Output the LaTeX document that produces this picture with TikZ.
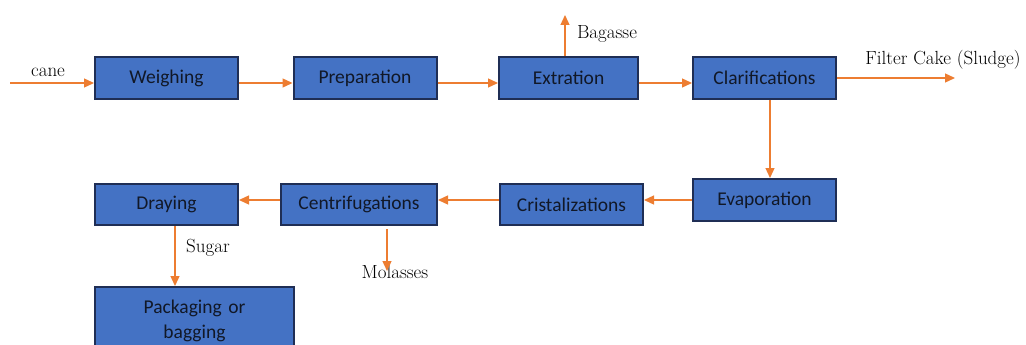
\documentclass[tikz,border=0pt]{standalone}
\usepackage{fontspec}
\newfontfamily\boxfont{Carlito}
\usetikzlibrary{arrows.meta}
\definecolor{boxfill}{HTML}{4472C4}
\definecolor{boxline}{HTML}{1F2E55}
\definecolor{boxtext}{HTML}{111827}
\definecolor{arrc}{HTML}{ED7D31}
\tikzset{
  procbox/.style={draw=boxline, line width=2pt, fill=boxfill, inner sep=0pt,
    minimum height=42pt, text=boxtext, font=\boxfont\fontsize{19.5}{25}\selectfont, align=center},
  arr/.style={draw=arrc, line width=1.3pt, -{Triangle[length=10pt,width=9pt]}},
  lbl/.style={font=\fontsize{19}{22}\selectfont, inner sep=0pt}
}
\begin{document}
\begin{tikzpicture}[x=1pt,y=-1pt]
\useasboundingbox (0,0) rectangle (1026,345);
% boxes
\node[procbox, minimum width=143pt] (weigh) at (166.5,78) {Weighing};
\node[procbox, minimum width=143pt] (prep) at (365,78) {Preparation};
\node[procbox, minimum width=139pt] (extr) at (568.5,78) {Extration};
\node[procbox, minimum width=143pt] (clar) at (764.5,78) {Clarifications};
\node[procbox, minimum width=143pt] (evap) at (764.5,200) {Evaporation};
\node[procbox, minimum width=143pt, minimum height=41pt] (crist) at (571.5,204.5) {Cristalizations};
\node[procbox, minimum width=156pt, minimum height=41pt] (centr) at (359,204.5) {Centrifugations};
\node[procbox, minimum width=143pt, minimum height=41pt] (dray) at (166.5,204.5) {Draying};
\node[procbox, minimum width=199pt, minimum height=68pt, text width=190pt] (pack) at (194.5,321) {Packaging or\\bagging};
% free ends
\coordinate (canein) at (10,83);
\coordinate (bagout) at (565,15);
\coordinate (filterout) at (955,78);
\coordinate (molout) at (387,271);
% labels
\node[lbl] (canel) at (48,72) {cane};
\node[lbl] (bagl) at (607,34) {Bagasse};
\node[lbl] (filterl) at (943,60) {Filter Cake (Sludge)};
\node[lbl] (sugarl) at (208,248) {Sugar};
\node[lbl] (moll) at (395,272) {Molasses};
% connectors
\draw[arr] (canein) -- ([yshift=-5pt]weigh.west);
\draw[arr] ([yshift=-5pt]weigh.east) -- ([yshift=-5pt]prep.west);
\draw[arr] ([yshift=-5pt]prep.east) -- ([yshift=-5pt]extr.west);
\draw[arr] ([yshift=-5pt]extr.east) -- ([yshift=-5pt]clar.west);
\draw[arr] ([xshift=-3.5pt]extr.north) -- (bagout);
\draw[arr] (clar.east) -- (filterout);
\draw[arr] ([xshift=5.5pt]clar.south) -- ([xshift=5.5pt]evap.north);
\draw[arr] (evap.west) -- ([yshift=4.5pt]crist.east);
\draw[arr] ([yshift=4.5pt]crist.west) -- ([yshift=4.5pt]centr.east);
\draw[arr] ([yshift=4.5pt]centr.west) -- ([yshift=4.5pt]dray.east);
\draw[arr] ([xshift=28pt,yshift=-3pt]centr.south) -- (molout);
\draw[arr] ([xshift=8.5pt]dray.south) -- ([xshift=-19.5pt]pack.north);
\end{tikzpicture}
\end{document}
